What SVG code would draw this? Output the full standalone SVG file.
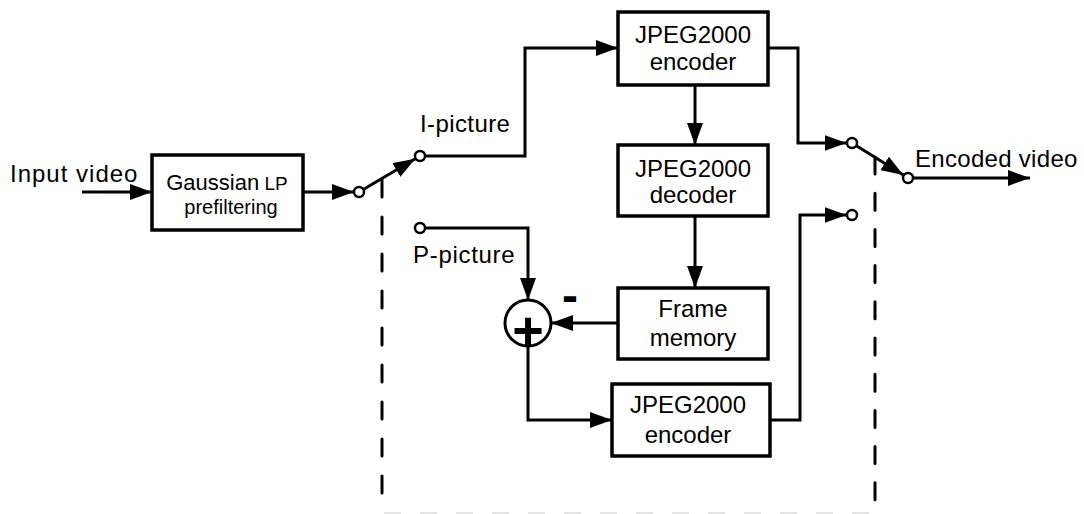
<svg xmlns="http://www.w3.org/2000/svg" width="1084" height="514" viewBox="0 0 1084 514">
<style>
.box{fill:#fff;stroke:#000;stroke-width:3.5}
.wire{fill:none;stroke:#000;stroke-width:3;stroke-linejoin:miter}
.arr{marker-end:url(#ah)}
.term{fill:#fff;stroke:#000;stroke-width:2.5}
.dash{fill:none;stroke:#000;stroke-width:3;stroke-linecap:round}
text{font-family:"Liberation Sans",Arial,sans-serif;font-size:24px;fill:#000}
.c{text-anchor:middle}
.f22{font-size:22px}
.f19{font-size:19px}
.f20{font-size:20px}
.plus{font-size:54px;font-weight:bold}
.minus{font-size:48px;font-weight:bold}
</style>
<defs>
<marker id="ah" markerUnits="userSpaceOnUse" markerWidth="22" markerHeight="16" refX="22" refY="8" orient="auto">
<path d="M0,0 L22,8 L0,16 z" fill="#000"/>
</marker>
</defs>
<g id="links">
<path class="dash" d="M382,180 V513" stroke-dasharray="17 20"/>
<path class="dash" d="M875,157 V513" stroke-dasharray="17 19.2"/>
<path d="M384,513 H875" fill="none" stroke="#e4e4e4" stroke-width="2" stroke-dasharray="17 19"/>
</g>
<g id="connectors">
<path class="wire arr" d="M82,192 H152"/>
<path class="wire arr" d="M303,192 H354"/>
<path class="wire arr" d="M359,192 L415.3,158.8"/>
<path class="wire arr" d="M425,156 H525 V48 H618"/>
<path class="wire arr" d="M695,85 V145"/>
<path class="wire arr" d="M695,216 V288"/>
<path class="wire arr" d="M768,48 H798 V143 H846.5"/>
<path class="wire arr" d="M618,323 H551"/>
<path class="wire arr" d="M425,228 H528 V300"/>
<path class="wire arr" d="M528,346 V420 H612"/>
<path class="wire arr" d="M770,420 H800 V215 H846.5"/>
<path class="wire arr" d="M852,143 L903.3,175.1"/>
<path class="wire arr" d="M913,178 H1030"/>
</g>
<g id="gaussian">
<rect class="box" x="152" y="155" width="151" height="75"/>
<text x="227" y="190" class="c"><tspan class="f22">Gaussian</tspan><tspan class="f19"> LP</tspan></text>
<text x="231" y="214" class="c f20">prefiltering</text>
</g>
<g id="encoder1">
<rect class="box" x="618" y="12" width="150" height="73"/>
<text x="693" y="43" class="c">JPEG2000</text>
<text x="693" y="70" class="c">encoder</text>
</g>
<g id="decoder">
<rect class="box" x="618" y="145" width="150" height="71"/>
<text x="693" y="177" class="c">JPEG2000</text>
<text x="693" y="203" class="c">decoder</text>
</g>
<g id="frame-memory">
<rect class="box" x="618" y="288" width="150" height="71"/>
<text x="693" y="317" class="c">Frame</text>
<text x="693" y="346" class="c">memory</text>
</g>
<g id="encoder2">
<rect class="box" x="612" y="384" width="158" height="72"/>
<text x="688" y="413" class="c">JPEG2000</text>
<text x="688" y="443" class="c">encoder</text>
</g>
<g id="adder">
<circle cx="528" cy="323" r="23" fill="#fff" stroke="#000" stroke-width="3"/>
<text x="528" y="349" class="c plus">+</text>
<text x="562" y="312" class="minus">-</text>
</g>
<g id="switch-in">
<circle class="term" cx="359" cy="192" r="5"/>
<circle class="term" cx="420" cy="156" r="5"/>
<circle class="term" cx="420" cy="228" r="5"/>
</g>
<g id="switch-out">
<circle class="term" cx="852" cy="143" r="5"/>
<circle class="term" cx="852" cy="215" r="5"/>
<circle class="term" cx="908" cy="178" r="5"/>
</g>
<g id="labels">
<text x="10" y="182" letter-spacing="1">Input video</text>
<text x="420" y="132" letter-spacing="0.4">I-picture</text>
<text x="413" y="263" letter-spacing="0.7">P-picture</text>
<text x="915" y="167" letter-spacing="0.3">Encoded video</text>
</g>
</svg>
